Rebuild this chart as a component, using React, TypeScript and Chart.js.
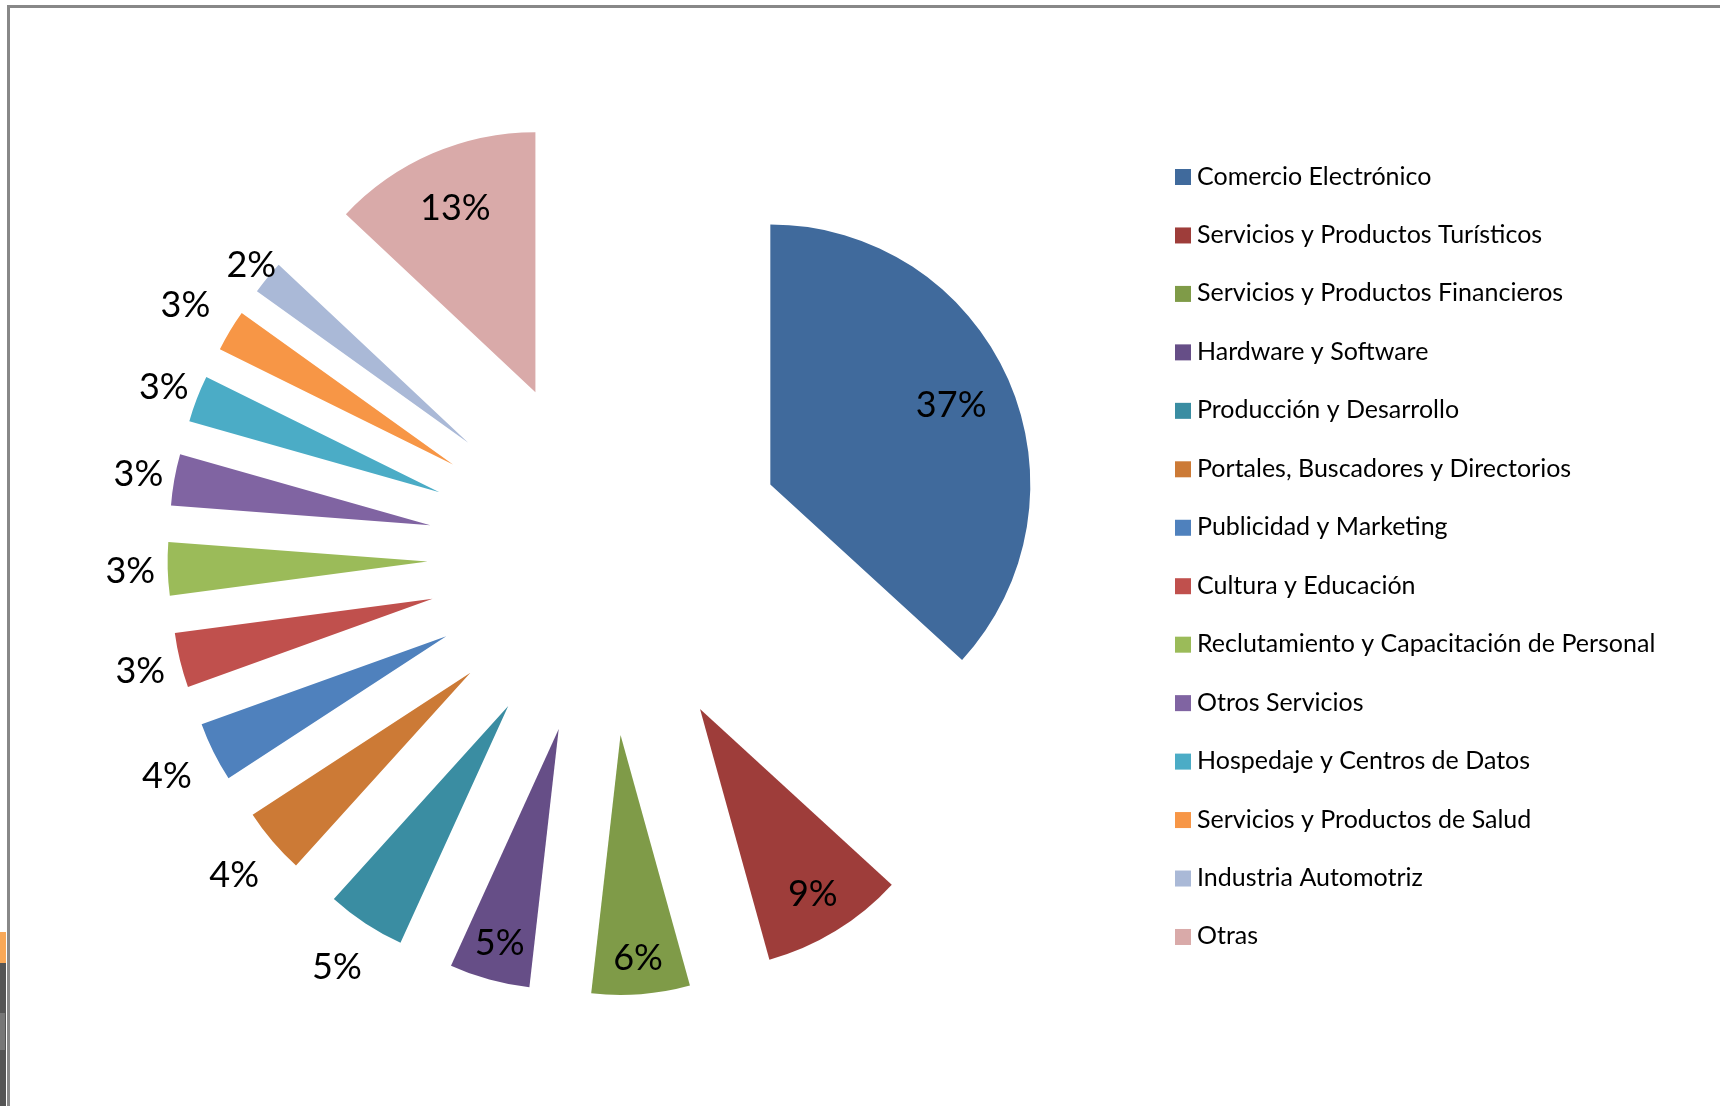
import React, { useEffect, useRef } from "react";
import { Chart, registerables } from "chart.js";

Chart.register(...registerables);

const categories = [
  "Comercio Electrónico",
  "Servicios y Productos Turísticos",
  "Servicios y Productos Financieros",
  "Hardware y Software",
  "Producción y Desarrollo",
  "Portales, Buscadores y Directorios",
  "Publicidad y Marketing",
  "Cultura y Educación",
  "Reclutamiento y Capacitación de Personal",
  "Otros Servicios",
  "Hospedaje y Centros de Datos",
  "Servicios y Productos de Salud",
  "Industria Automotriz",
  "Otras",
];

const shares = [36.8, 8.9, 6.1, 5.0, 4.9, 4.1, 3.7, 3.4, 3.3, 3.2, 2.9, 2.6, 2.1, 13.0];

const percentLabels = ["37%", "9%", "6%", "5%", "5%", "4%", "4%", "3%", "3%", "3%", "3%", "3%", "2%", "13%"];

const sliceColors = [
  "#406A9C",
  "#9E3D3A",
  "#7F9B48",
  "#664E87",
  "#3A8DA2",
  "#CC7A36",
  "#4F81BD",
  "#C0504D",
  "#9BBB59",
  "#8064A2",
  "#4BACC6",
  "#F79646",
  "#AAB9D7",
  "#D9AAA9",
];

// label placement: distance of each label centre from the slice tip, as a fraction of the radius
const labelRadiusFactor = [0.76, 0.83, 0.86, 0.85, 1.2, 1.195, 1.2, 1.157, 1.144, 1.14, 1.136, 1.2, 1.08, 0.775];

const EXPLODE = 179;
const RADIUS = 260;
const LABEL_FONT = "36px Lato";
const LEGEND_FONT = "25px Lato";

const explodePlugin = {
  id: "explodeSlices",
  afterDatasetUpdate(chart: any, args: any) {
    const meta = chart.getDatasetMeta(args.index);
    meta.data.forEach((arc: any) => {
      const mid = (arc.startAngle + arc.endAngle) / 2;
      arc.x += Math.cos(mid) * EXPLODE;
      arc.y += Math.sin(mid) * EXPLODE;
    });
  },
};

const labelPlugin = {
  id: "sliceLabels",
  afterDatasetsDraw(chart: any) {
    const ctx = chart.ctx;
    const meta = chart.getDatasetMeta(0);
    ctx.save();
    ctx.font = LABEL_FONT;
    ctx.fillStyle = "#000000";
    ctx.textAlign = "center";
    ctx.textBaseline = "middle";
    meta.data.forEach((arc: any, i: number) => {
      const mid = (arc.startAngle + arc.endAngle) / 2;
      const d = arc.outerRadius * labelRadiusFactor[i];
      const x = arc.x + Math.cos(mid) * d;
      const y = arc.y + Math.sin(mid) * d;
      ctx.fillText(percentLabels[i], x, y + 1);
    });
    ctx.restore();
  },
};

const legendPlugin = {
  id: "sideLegend",
  afterDraw(chart: any) {
    const ctx = chart.ctx;
    const labels = chart.data.labels as string[];
    const colors = chart.data.datasets[0].backgroundColor as string[];
    ctx.save();
    ctx.font = LEGEND_FONT;
    ctx.textAlign = "left";
    ctx.textBaseline = "alphabetic";
    const step = 58.46;
    labels.forEach((lab, i) => {
      const top = 169 + i * step;
      ctx.fillStyle = colors[i];
      ctx.fillRect(1175, top, 16, 16);
      ctx.fillStyle = "#000000";
      ctx.fillText(lab, 1197, top + 15.5);
    });
    ctx.restore();
  },
};

export default function App() {
  const canvasRef = useRef<HTMLCanvasElement | null>(null);

  useEffect(() => {
    document.body.style.margin = "0";
    const canvas = canvasRef.current;
    if (!canvas) return;
    const chart = new Chart(canvas, {
      type: "pie",
      data: {
        labels: categories,
        datasets: [
          {
            data: shares,
            backgroundColor: sliceColors,
            borderWidth: 0,
          },
        ],
      },
      options: {
        responsive: false,
        animation: false,
        events: [],
        radius: RADIUS,
        layout: { padding: { left: 0, right: 507, top: 7, bottom: 0 } },
        plugins: {
          legend: { display: false },
          tooltip: { enabled: false },
          title: { display: false },
        },
      } as any,
      plugins: [explodePlugin, labelPlugin, legendPlugin],
    });
    return () => chart.destroy();
  }, []);

  return (
    <div style={{ position: "fixed", left: 0, top: 0, width: 1720, height: 1106, background: "#ffffff", overflow: "hidden" }}>
      <canvas ref={canvasRef} width={1720} height={1106} style={{ position: "absolute", left: 0, top: 0 }} />
      <div style={{ position: "absolute", left: 7, top: 5, width: 1713, height: 3, background: "#888888" }} />
      <div style={{ position: "absolute", left: 7, top: 5, width: 3, height: 1101, background: "#888888" }} />
      <div style={{ position: "absolute", left: 0, top: 932, width: 6, height: 31, background: "#F9A857" }} />
      <div style={{ position: "absolute", left: 0, top: 963, width: 6, height: 143, background: "#555555" }} />
      <div style={{ position: "absolute", left: 0, top: 1013, width: 5, height: 37, background: "#777777" }} />
    </div>
  );
}
